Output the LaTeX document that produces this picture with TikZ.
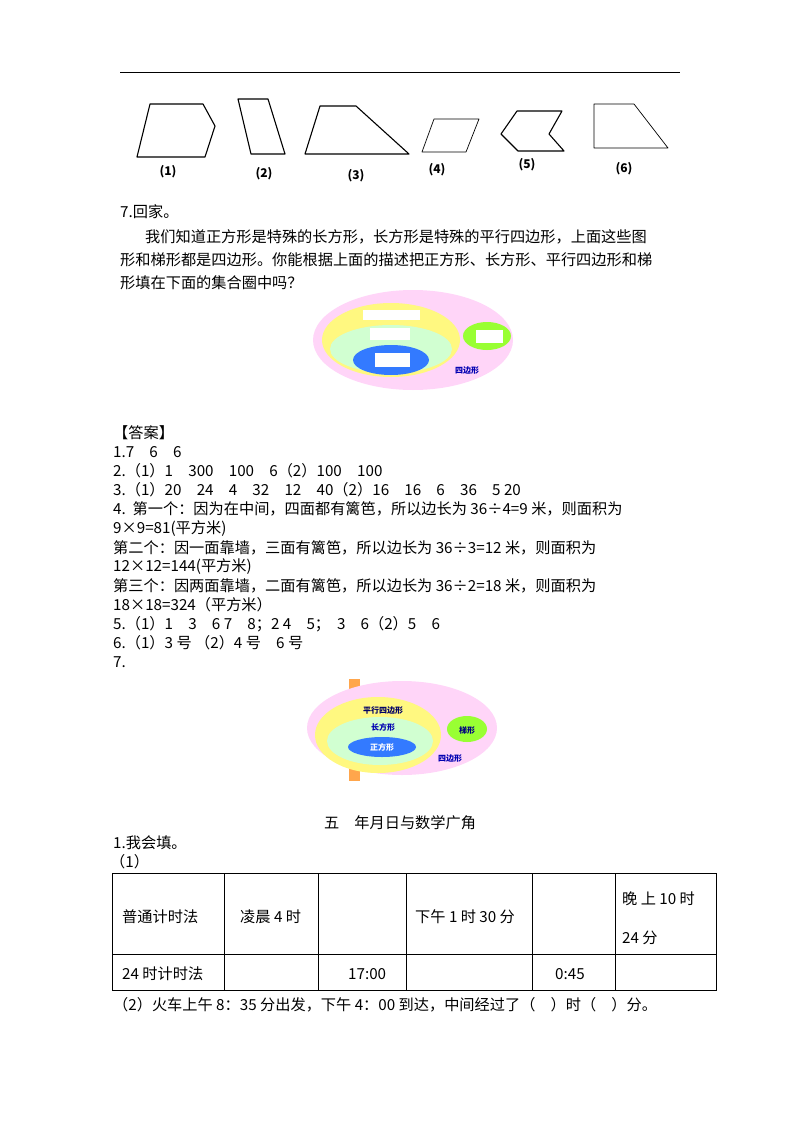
\documentclass[tikz,border=0pt]{standalone}
\usepackage{fontspec}
\setmainfont{Noto Sans CJK SC}
\begin{document}
\begin{tikzpicture}[x=1pt,y=-1pt,
  txt/.style={anchor=west,inner sep=0pt,font=\fontsize{15.2}{17}\selectfont},
  shp/.style={draw,line width=1.1pt,line join=round},
  lbl/.style={inner sep=0pt,font=\fontsize{12}{14}\selectfont\bfseries},
  vt/.style={inner sep=0pt,font=\fontsize{8}{9}\selectfont\bfseries},
  wb/.style={fill=white,draw=none}]
\useasboundingbox (0,0) rectangle (800,1132);
\draw[line width=0.8pt] (120,72) -- (680,72);
% shapes
\draw[shp] (150,104) -- (203,104) -- (215,126) -- (205,157) -- (137,157) -- cycle;
\draw[shp] (238,99) -- (268,99) -- (285,154) -- (251,154) -- cycle;
\draw[shp] (320,106) -- (356,106) -- (409,154) -- (305,154) -- cycle;
\draw[shp,line width=0.7pt] (434,119) -- (479,119) -- (466,152) -- (422,152) -- cycle;
\draw[shp] (517,111) -- (562,111) -- (549,134) -- (564,151) -- (518,151) -- (501,134) -- cycle;
\draw[shp,line width=0.7pt] (594,104) -- (634,104) -- (668,148) -- (594,148) -- cycle;
\node[lbl] (l1) at (168,172) {(1)};
\node[lbl] (l2) at (264,174) {(2)};
\node[lbl] (l3) at (356,176) {(3)};
\node[lbl] (l4) at (437,170) {(4)};
\node[lbl] (l5) at (527,165) {(5)};
\node[lbl] (l6) at (624,169) {(6)};
\node[txt] (q7) at (120,212) {7.回家。};
\node[txt] (p1) at (145,237) {我们知道正方形是特殊的长方形，长方形是特殊的平行四边形，上面这些图};
\node[txt] (p2) at (120,260) {形和梯形都是四边形。你能根据上面的描述把正方形、长方形、平行四边形和梯};
\node[txt] (p3) at (120,283) {形填在下面的集合圈中吗？};
% Venn 1
\fill[pink!45!magenta!25] (413,340) ellipse (100 and 50);
\fill[yellow!50] (391,340) ellipse (69 and 37);
\fill[green!18] (391,349) ellipse (61 and 24);
\fill[blue!65!cyan!80] (391,360) ellipse (38 and 15);
\fill[green!50!yellow!80] (487,336) ellipse (24 and 14);
\fill[wb] (375,353) rectangle (410,367);
\fill[wb] (476,330) rectangle (503,343);
\fill[wb] (363,310) rectangle (420,320);
\fill[wb] (370,328) rectangle (410,340);
\node[vt,text=blue!70!black] (v1) at (467,370) {四边形};
\node[txt] (ans) at (113,433) {【答案】};
\node[txt] (a1) at (113,452) {1.7\quad 6\quad 6};
\node[txt] (a2) at (113,471) {2.（1）1\quad 300\quad 100\quad 6（2）100\quad 100};
\node[txt] (a3) at (113,490) {3.（1）20\quad 24\quad 4\quad 32\quad 12\quad 40（2）16\quad 16\quad 6\quad 36\quad 5 20};
\node[txt] (a4) at (113,509) {4.\ \ 第一个：因为在中间，四面都有篱笆，所以边长为 36÷4=9 米，则面积为};
\node[txt] (a5) at (113,529) {9×9=81(平方米)};
\node[txt] (a6) at (113,548) {第二个：因一面靠墙，三面有篱笆，所以边长为 36÷3=12 米，则面积为};
\node[txt] (a7) at (113,567) {12×12=144(平方米)};
\node[txt] (a8) at (113,586) {第三个：因两面靠墙，二面有篱笆，所以边长为 36÷2=18 米，则面积为};
\node[txt] (a9) at (113,605) {18×18=324（平方米）};
\node[txt] (a10) at (113,624) {5.（1）1\quad 3\quad 6 7\quad 8；2 4\quad 5；\ \ 3\quad 6（2）5\quad 6};
\node[txt] (a11) at (113,643) {6.（1）3 号\ （2）4 号\quad 6 号};
\node[txt] (a12) at (113,662) {7.};
% Venn 2
\fill[orange!70] (349,679) rectangle (360,781);
\fill[pink!45!magenta!25] (402,728) ellipse (95 and 47);
\fill[yellow!50] (378,735) ellipse (63 and 38);
\fill[green!18] (380,741) ellipse (53 and 24);
\fill[blue!65!cyan!80] (382,747) ellipse (34 and 10);
\fill[green!50!yellow!80] (467,729) ellipse (20 and 13);
\node[vt,text=blue!40!black] (w1) at (383,710) {平行四边形};
\node[vt,text=blue!70!black] (w2) at (383,727) {长方形};
\node[vt,text=white] (w3) at (382,747) {正方形};
\node[vt,text=blue!50!black] (w4) at (467,730) {梯形};
\node[vt,text=blue!70!black] (w5) at (450,758) {四边形};
\node[inner sep=0pt,font=\fontsize{15.2}{17}\selectfont] (t5) at (400,823) {五\quad 年月日与数学广角};
\node[txt] (b1) at (113,843) {1.我会填。};
\node[txt] (b2) at (110,862) {（1）};
% table
\draw[line width=0.8pt] (112,873) rectangle (716,990);
\draw[line width=0.6pt] (112,954) -- (716,954);
\foreach \x in {224,318,406,532,615} \draw[line width=0.6pt] (\x,873) -- (\x,990);
\node[txt] (c1) at (122,917) {普通计时法};
\node[txt] (c2) at (240,917) {凌晨 4 时};
\node[txt] (c3) at (415,917) {下午 1 时 30 分};
\node[txt] (c4) at (622,899) {晚\ 上\ 10\ 时};
\node[txt] (c5) at (622,938) {24 分};
\node[txt] (d1) at (122,974) {24 时计时法};
\node[txt] (d2) at (348,974) {17:00};
\node[txt] (d3) at (555,974) {0:45};
\node[txt] (e1) at (113,1005) {（2）火车上午 8：35 分出发，下午 4：00 到达，中间经过了（\quad ）时（\quad ）分。};
\end{tikzpicture}
\end{document}
